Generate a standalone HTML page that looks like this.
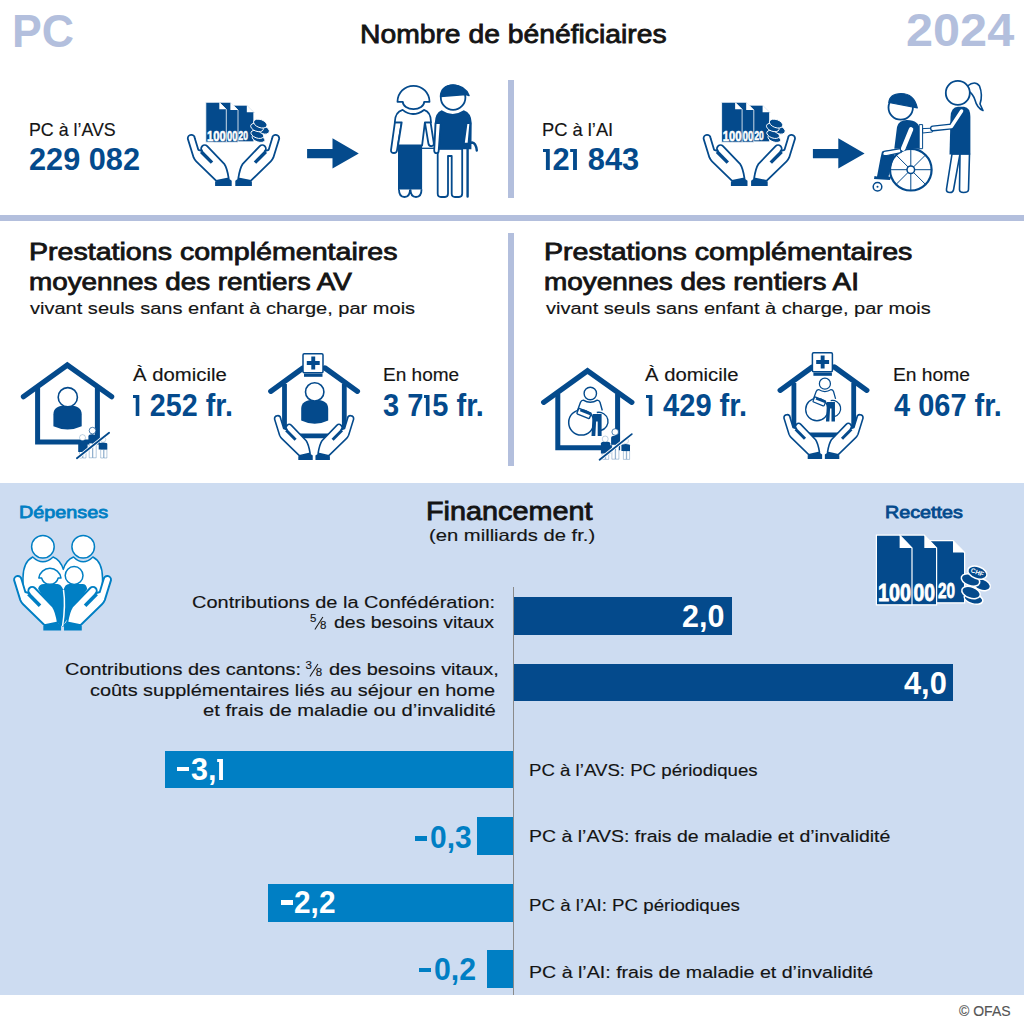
<!DOCTYPE html>
<html><head><meta charset="utf-8"><style>
html,body{margin:0;padding:0;background:#fff;}
body{width:1024px;height:1030px;position:relative;overflow:hidden;font-family:"Liberation Sans",sans-serif;}
.t{position:absolute;white-space:nowrap;transform-origin:0 0;}
.r{position:absolute;}
svg{position:absolute;overflow:visible;}
.one{display:inline-block;position:relative;width:0.31em;height:0.66em;}.one::before{content:'';position:absolute;left:0.095em;bottom:0;width:0.13em;height:0.664em;background:currentColor;}.one::after{content:'';position:absolute;left:0.015em;top:0;width:0.1em;height:0.1em;background:currentColor;}</style></head><body>
<div class="r" style="left:508px;top:80px;width:6px;height:118px;background:#b3bfdd"></div>
<div class="r" style="left:0px;top:214.5px;width:1024px;height:6.199999999999989px;background:#b3bfdd"></div>
<div class="r" style="left:508px;top:233px;width:6px;height:233px;background:#b3bfdd"></div>
<div class="r" style="left:0px;top:483px;width:1024px;height:512px;background:#cddcf1"></div>
<div class="r" style="left:514px;top:597px;width:218px;height:38px;background:#044a8c"></div>
<div class="r" style="left:514px;top:664px;width:439px;height:37px;background:#044a8c"></div>
<div class="r" style="left:165px;top:751px;width:348px;height:37px;background:#007fc4"></div>
<div class="r" style="left:477px;top:817px;width:36px;height:38px;background:#007fc4"></div>
<div class="r" style="left:268px;top:884px;width:245px;height:38px;background:#007fc4"></div>
<div class="r" style="left:487px;top:950px;width:26px;height:38px;background:#007fc4"></div>
<div class="r" style="left:513px;top:587px;width:1px;height:408px;background:#8a8a8a"></div>
<div class="r" style="left:176.5px;top:767.3px;width:12.5px;height:4.2000000000000455px;background:#fff"></div>
<div class="r" style="left:414.7px;top:836.4px;width:12.300000000000011px;height:4.300000000000068px;background:#007fc4"></div>
<div class="r" style="left:280.9px;top:899.9px;width:12.5px;height:5.100000000000023px;background:#fff"></div>
<div class="r" style="left:419.1px;top:967.9px;width:11.899999999999977px;height:4.300000000000068px;background:#007fc4"></div>
<svg width="1024" height="1030" viewBox="0 0 1024 1030" style="left:0;top:0">
<g transform="translate(0,0)">
 <path d="M228 105.2 H246.8 L253.8 112.3 V141.8 H228 Z" fill="#044a8c" stroke="#fff" stroke-width="0.8"/>
 <path d="M246.8 105.2 L253.8 112.3 H246.8 Z" fill="#fff"/>
 <path d="M214 102.3 H230.4 L238 110 V142.2 H214 Z" fill="#044a8c" stroke="#fff" stroke-width="0.8"/>
 <path d="M230.4 102.3 L238 110 H230.4 Z" fill="#fff"/>
 <path d="M205.8 102.3 H219.3 L226.3 109.3 V142.2 H205.8 Z" fill="#044a8c" stroke="#fff" stroke-width="0.8"/>
 <path d="M219.3 102.3 L226.3 109.3 H219.3 Z" fill="#fff"/>
 <text x="207" y="141" font-family="Liberation Sans" font-weight="bold" font-size="15" fill="#fff" stroke="#fff" stroke-width="0.6" textLength="18.7" lengthAdjust="spacingAndGlyphs">100</text>
 <text x="227" y="141" font-family="Liberation Sans" font-weight="bold" font-size="15" fill="#fff" stroke="#fff" stroke-width="0.6" textLength="10.4" lengthAdjust="spacingAndGlyphs">00</text>
 <text x="238.6" y="139.5" font-family="Liberation Sans" font-weight="bold" font-size="13.5" fill="#fff" stroke="#fff" stroke-width="0.6" textLength="9.4" lengthAdjust="spacingAndGlyphs">20</text>
 <g fill="#044a8c" stroke="#fff" stroke-width="0.9">
  <ellipse cx="258.5" cy="138.6" rx="6.6" ry="3.4" transform="rotate(18 258.5 138.6)"/>
  <ellipse cx="257.3" cy="134.4" rx="6.6" ry="3.6" transform="rotate(20 257.3 134.4)"/>
  <ellipse cx="263.6" cy="130" rx="6" ry="3.8" transform="rotate(20 263.6 130)"/>
  <ellipse cx="257" cy="127.5" rx="6.6" ry="3.8" transform="rotate(20 257 127.5)"/>
  <ellipse cx="260.3" cy="123.6" rx="7" ry="4" transform="rotate(20 260.3 123.6)"/>
 </g>
</g>
<g color="#044a8c">
 <g transform="translate(232,185.9)">
 <path d="M -37.2 -47.7 A 3.5 3.5 0 0 0 -44.2 -47.2 L -38.4 -28.5 Q -37.3 -26 -35.8 -24.6 L -15.7 -5.0 L -3.3 -7.6 Q -5 -18 -7.8 -22.1 L -24.8 -39.8 A 3.5 3.5 0 0 0 -29.8 -34.8 L -33.7 -36.1 Z" fill="#fff" stroke="currentColor" stroke-width="1.8" stroke-linejoin="round"/>
 <path d="M -30.8 -34.2 L -20 -23.3" stroke="currentColor" stroke-width="3.4"/>
 <path d="M -16.9 -4.4 L -3.5 -7.6 L -0.3 -5.1 L -0.3 0 L -16.9 0 Z" fill="currentColor"/>
</g>
 <g transform="translate(235,185.9) scale(-1,1)">
 <path d="M -37.2 -47.7 A 3.5 3.5 0 0 0 -44.2 -47.2 L -38.4 -28.5 Q -37.3 -26 -35.8 -24.6 L -15.7 -5.0 L -3.3 -7.6 Q -5 -18 -7.8 -22.1 L -24.8 -39.8 A 3.5 3.5 0 0 0 -29.8 -34.8 L -33.7 -36.1 Z" fill="#fff" stroke="currentColor" stroke-width="1.8" stroke-linejoin="round"/>
 <path d="M -30.8 -34.2 L -20 -23.3" stroke="currentColor" stroke-width="3.4"/>
 <path d="M -16.9 -4.4 L -3.5 -7.6 L -0.3 -5.1 L -0.3 0 L -16.9 0 Z" fill="currentColor"/>
</g>
</g>
<g transform="translate(515.8,0)">
 <path d="M228 105.2 H246.8 L253.8 112.3 V141.8 H228 Z" fill="#044a8c" stroke="#fff" stroke-width="0.8"/>
 <path d="M246.8 105.2 L253.8 112.3 H246.8 Z" fill="#fff"/>
 <path d="M214 102.3 H230.4 L238 110 V142.2 H214 Z" fill="#044a8c" stroke="#fff" stroke-width="0.8"/>
 <path d="M230.4 102.3 L238 110 H230.4 Z" fill="#fff"/>
 <path d="M205.8 102.3 H219.3 L226.3 109.3 V142.2 H205.8 Z" fill="#044a8c" stroke="#fff" stroke-width="0.8"/>
 <path d="M219.3 102.3 L226.3 109.3 H219.3 Z" fill="#fff"/>
 <text x="207" y="141" font-family="Liberation Sans" font-weight="bold" font-size="15" fill="#fff" stroke="#fff" stroke-width="0.6" textLength="18.7" lengthAdjust="spacingAndGlyphs">100</text>
 <text x="227" y="141" font-family="Liberation Sans" font-weight="bold" font-size="15" fill="#fff" stroke="#fff" stroke-width="0.6" textLength="10.4" lengthAdjust="spacingAndGlyphs">00</text>
 <text x="238.6" y="139.5" font-family="Liberation Sans" font-weight="bold" font-size="13.5" fill="#fff" stroke="#fff" stroke-width="0.6" textLength="9.4" lengthAdjust="spacingAndGlyphs">20</text>
 <g fill="#044a8c" stroke="#fff" stroke-width="0.9">
  <ellipse cx="258.5" cy="138.6" rx="6.6" ry="3.4" transform="rotate(18 258.5 138.6)"/>
  <ellipse cx="257.3" cy="134.4" rx="6.6" ry="3.6" transform="rotate(20 257.3 134.4)"/>
  <ellipse cx="263.6" cy="130" rx="6" ry="3.8" transform="rotate(20 263.6 130)"/>
  <ellipse cx="257" cy="127.5" rx="6.6" ry="3.8" transform="rotate(20 257 127.5)"/>
  <ellipse cx="260.3" cy="123.6" rx="7" ry="4" transform="rotate(20 260.3 123.6)"/>
 </g>
</g>
<g color="#044a8c">
 <g transform="translate(747.8,185.9)">
 <path d="M -37.2 -47.7 A 3.5 3.5 0 0 0 -44.2 -47.2 L -38.4 -28.5 Q -37.3 -26 -35.8 -24.6 L -15.7 -5.0 L -3.3 -7.6 Q -5 -18 -7.8 -22.1 L -24.8 -39.8 A 3.5 3.5 0 0 0 -29.8 -34.8 L -33.7 -36.1 Z" fill="#fff" stroke="currentColor" stroke-width="1.8" stroke-linejoin="round"/>
 <path d="M -30.8 -34.2 L -20 -23.3" stroke="currentColor" stroke-width="3.4"/>
 <path d="M -16.9 -4.4 L -3.5 -7.6 L -0.3 -5.1 L -0.3 0 L -16.9 0 Z" fill="currentColor"/>
</g>
 <g transform="translate(750.8,185.9) scale(-1,1)">
 <path d="M -37.2 -47.7 A 3.5 3.5 0 0 0 -44.2 -47.2 L -38.4 -28.5 Q -37.3 -26 -35.8 -24.6 L -15.7 -5.0 L -3.3 -7.6 Q -5 -18 -7.8 -22.1 L -24.8 -39.8 A 3.5 3.5 0 0 0 -29.8 -34.8 L -33.7 -36.1 Z" fill="#fff" stroke="currentColor" stroke-width="1.8" stroke-linejoin="round"/>
 <path d="M -30.8 -34.2 L -20 -23.3" stroke="currentColor" stroke-width="3.4"/>
 <path d="M -16.9 -4.4 L -3.5 -7.6 L -0.3 -5.1 L -0.3 0 L -16.9 0 Z" fill="currentColor"/>
</g>
</g>
<path d="M307.1 148.9 H332.5 V138.2 L358.8 153.4 L332.5 168.6 V158.3 H307.1 Z" fill="#044a8c"/>
<path d="M812.9000000000001 148.9 H838.3 V138.2 L864.6 153.4 L838.3 168.6 V158.3 H812.9000000000001 Z" fill="#044a8c"/>
<g fill="#fff" stroke="#044a8c" stroke-width="1.8" stroke-linejoin="round">
 <path d="M394.9 122.3 L391 150.2 Q390.8 153 394 153 Q396.6 153 397 150.4 L401.7 122.3 Z"/>
 <path d="M424.9 122.3 L428.4 143.5 Q428.8 146.2 431.6 146.2 Q434.2 145.8 433.8 143 L430.6 122.3 Z"/>
 <path d="M402.6 109.9 Q412.8 118.1 424 109.9 Q431 112 431 122.3 L424.9 122.3 L422.1 145.5 L398 145.5 L401.7 122.3 L394.8 122.3 Q395 112 402.6 109.9 Z"/>
 <path d="M437.7 148.8 V193.5 Q437.7 197 441 197 H445 Q448 197 448 193.5 V156 H451.7 V193.5 Q451.7 197 455 197 H459 Q462.2 197 462.2 193.5 V148.8 Z"/>
</g>
<path d="M398 145.5 H422.1 V190 H398 Z" fill="#044a8c"/>
<path d="M399 189.5 Q399 197 404.5 197 Q410 197 410 189.5 M410.5 189.5 Q410.5 197 416 197 Q421.5 197 421.5 189.5" fill="#fff" stroke="#044a8c" stroke-width="1.8"/>
<path d="M397.5 101.8 A16 16 0 0 1 429.5 101.8 H424.2 A10.7 7.4 0 0 1 402.8 101.8 Z" fill="#fff" stroke="#044a8c" stroke-width="1.8" stroke-linejoin="round"/>
<path d="M422 148.3 H437.5" stroke="#044a8c" stroke-width="1.3"/>
<path d="M441.6 110.3 Q452.7 117.6 463.8 110.3 Q471.5 113 471.7 123 L471.4 149.2 L434.4 149.2 L434.8 123 Q435 113 441.6 110.3 Z" fill="#044a8c"/>
<g fill="#fff" stroke="#044a8c" stroke-width="1.8" stroke-linejoin="round">
 <path d="M435.6 123.2 L434.2 150.4 Q434.2 153.2 436.8 153.2 Q438.7 153.2 438.7 150.6 L440.7 123.2 Z"/>
 <path d="M466.6 123.2 L463.8 143.6 L468.5 143.6 L470.3 123.2 Z"/>
 <circle cx="453.1" cy="97.5" r="12.3"/>
</g>
<path d="M440.5 96.5 Q441 85.5 453 85.2 Q465 85.3 469 95.5 L466 94.5 Z" fill="#044a8c" stroke="#044a8c" stroke-width="1.5" stroke-linejoin="round"/>
<path d="M467.6 196.5 V148 Q468 142.5 472 142.5 Q476 143 476.8 150.5" fill="none" stroke="#044a8c" stroke-width="2.4" stroke-linecap="round"/>


<!-- wheel -->
<circle cx="910.8" cy="169.7" r="20.8" fill="#fff" stroke="#044a8c" stroke-width="2.2"/>
<g stroke="#044a8c" stroke-width="1">
 <path d="M910.8 149 V190.5 M890 169.7 H931.6 M896.1 155 L925.5 184.4 M925.5 155 L896.1 184.4"/>
</g>
<circle cx="910.8" cy="169.7" r="3.8" fill="#fff" stroke="#044a8c" stroke-width="1.5"/>
<circle cx="877.5" cy="186.8" r="4.3" fill="#fff" stroke="#044a8c" stroke-width="1.5"/>
<circle cx="877.5" cy="186.8" r="1" fill="#044a8c"/>
<!-- legs -->
<path d="M882 151.5 L896 149 L893 160 L888.5 176.5 L891 177 L890 180 L874 179 L874.5 176 L877 176.5 L880.5 158 Z" fill="#044a8c"/>
<path d="M884 151.3 Q882 153 883 155 Q885 156 887 155.5 L901 152.5 L900.6 148.7 Z" fill="#fff" stroke="#044a8c" stroke-width="1.2"/>
<!-- body -->
<path d="M894.3 148.7 L897 127 Q899 120 907 120.1 Q919.5 120.5 919.7 130 L919.7 148.7 Z" fill="#044a8c"/>
<path d="M911 129.5 L903.2 148.5" stroke="#fff" stroke-width="4.6" stroke-linecap="round"/>
<path d="M919.2 124.6 H922.6 V148.7 H919.2 Z M922.6 128.6 L932.4 128.2 L932.4 132 L922.6 133 Z" fill="#fff" stroke="#044a8c" stroke-width="1"/>
<!-- head -->
<circle cx="900.7" cy="107.5" r="12.2" fill="#fff" stroke="#044a8c" stroke-width="1.8"/>
<path d="M888.8 102.5 Q889.5 93.8 901 93.5 Q914 93.5 917.3 107.8 Z" fill="#044a8c" stroke="#044a8c" stroke-width="1.2" stroke-linejoin="round"/>
<!-- woman legs -->
<g fill="#fff" stroke="#044a8c" stroke-width="1.6" stroke-linejoin="round">
 <path d="M952 154 L946.5 189 Q946 192.5 950 192.5 Q953 192.5 953.5 190 L960 154 Z"/>
 <path d="M960 154 L959.5 189.5 Q959.5 192.5 963.5 192.5 Q968.5 192.5 968.5 189.5 L969.5 154 Z"/>
</g>
<!-- dress -->
<path d="M949.5 154.4 L950.5 117 Q951 107 958 106.8 L964 106.8 Q970.4 107.5 970.4 117 V154.4 Z" fill="#044a8c"/>
<!-- arm -->
<path d="M961.6 111 L951.4 126.5 L933 128.4" fill="none" stroke="#044a8c" stroke-width="6" stroke-linecap="round" stroke-linejoin="round"/>
<path d="M961.6 111 L951.4 126.5 L933 128.4" fill="none" stroke="#fff" stroke-width="3.4" stroke-linecap="round" stroke-linejoin="round"/>
<!-- woman head -->
<path d="M967.5 86 Q975 80 979.5 86 Q983 95 980 104 L983 110.5 Q977 108 975 100 Q973 94 968.5 91" fill="#fff" stroke="#044a8c" stroke-width="1.6" stroke-linejoin="round"/>
<circle cx="957.8" cy="92.9" r="12" fill="#fff" stroke="#044a8c" stroke-width="1.8"/>

<g transform="translate(0,0)">
 <path d="M37.6 388 V442 H97.4 V388" fill="none" stroke="#044a8c" stroke-width="5"/>
 <path d="M23.5 396.6 L67.3 365.1 L111.6 396.6" fill="none" stroke="#044a8c" stroke-width="5.3" stroke-linecap="round" stroke-linejoin="miter"/>
</g>
<path d="M53.4 414.2 Q53.4 405.2 67.55 405.2 Q81.7 405.2 81.7 414.2 L81.7 426.3 Q67.55 432.8 53.4 426.3 Z" fill="#044a8c"/>
<circle cx="67.8" cy="397.2" r="9.6" fill="#fff" stroke="#044a8c" stroke-width="1.6"/>
<g transform="translate(0,0)">
 <g fill="#fff" stroke="#044a8c" stroke-width="0.6" stroke-opacity="0.5">
  <path d="M89.2 443 H92.5 V457.8 H89.2 Z M92.9 443 H96.2 V457.8 H92.9 Z"/>
  <path d="M79.5 451 H82.5 V458 H79.5 Z M83 451 H86 V458 H83 Z"/>
  <path d="M100.7 449.5 H103.6 V458 H100.7 Z M104 449.5 H106.9 V458 H104 Z"/>
 </g>
 <path d="M88.4 436.5 Q88.4 434.3 92.1 434.3 Q95.8 434.3 95.8 436.5 V443.3 H88.4 Z" fill="#044a8c"/>
 <circle cx="92.5" cy="430.6" r="3.3" fill="#fff" stroke="#044a8c" stroke-width="0.7"/>
 <path d="M78.2 442 Q78.2 440 82.9 440 Q87.6 440 87.6 442 V452 H78.2 Z" fill="#044a8c"/>
 <circle cx="82.5" cy="437.6" r="3" fill="#fff" stroke="#044a8c" stroke-width="0.5" stroke-opacity="0.5"/>
 <path d="M98.7 444 Q98.7 442.5 103 442.5 Q107.3 442.5 107.3 444 V449.5 H98.7 Z" fill="#044a8c"/>
 <circle cx="103" cy="439.5" r="2.8" fill="#fff" stroke="#044a8c" stroke-width="0.5" stroke-opacity="0.4"/>
 <path d="M76.9 458.3 L109.1 432.7" stroke="#fff" stroke-width="3.4"/>
 <path d="M76.9 458.3 L109.1 432.7" stroke="#044a8c" stroke-width="1.8" stroke-linecap="round"/>
</g>
<g transform="translate(0,0)">
 <path d="M284.5 384 V435.8 H344.3 V384" fill="none" stroke="#044a8c" stroke-width="4.8"/>
 <path d="M270.8 391.3 L303 368 M325 368 L357.4 391.3" fill="none" stroke="#044a8c" stroke-width="5.3" stroke-linecap="round"/>
 <rect x="304" y="373.6" width="18.5" height="3.2" fill="#044a8c"/>
 <rect x="303" y="353.8" width="20" height="19" rx="1.2" fill="#fff" stroke="#044a8c" stroke-width="1.5"/>
 <path d="M306.8 361 H319.7 V364.9 H306.8 Z M311.3 356.4 H315.2 V369.4 H311.3 Z" fill="#044a8c"/>
 <path d="M301.2 408.8 Q301.2 399.8 314.7 399.8 Q328.2 399.8 328.2 408.8 L328.2 420.6 Q314.7 427.1 301.2 420.6 Z" fill="#044a8c"/>
<circle cx="314.7" cy="391.9" r="9.2" fill="#fff" stroke="#044a8c" stroke-width="1.6"/>
 <g color="#044a8c">
  <g transform="translate(313,460) scale(0.87)">
 <path d="M -37.2 -47.7 A 3.5 3.5 0 0 0 -44.2 -47.2 L -38.4 -28.5 Q -37.3 -26 -35.8 -24.6 L -15.7 -5.0 L -3.3 -7.6 Q -5 -18 -7.8 -22.1 L -24.8 -39.8 A 3.5 3.5 0 0 0 -29.8 -34.8 L -33.7 -36.1 Z" fill="#fff" stroke="currentColor" stroke-width="1.8" stroke-linejoin="round"/>
 <path d="M -30.8 -34.2 L -20 -23.3" stroke="currentColor" stroke-width="3.4"/>
 <path d="M -16.9 -4.4 L -3.5 -7.6 L -0.3 -5.1 L -0.3 0 L -16.9 0 Z" fill="currentColor"/>
</g>
  <g transform="translate(315.2,460) scale(-0.87,0.87)">
 <path d="M -37.2 -47.7 A 3.5 3.5 0 0 0 -44.2 -47.2 L -38.4 -28.5 Q -37.3 -26 -35.8 -24.6 L -15.7 -5.0 L -3.3 -7.6 Q -5 -18 -7.8 -22.1 L -24.8 -39.8 A 3.5 3.5 0 0 0 -29.8 -34.8 L -33.7 -36.1 Z" fill="#fff" stroke="currentColor" stroke-width="1.8" stroke-linejoin="round"/>
 <path d="M -30.8 -34.2 L -20 -23.3" stroke="currentColor" stroke-width="3.4"/>
 <path d="M -16.9 -4.4 L -3.5 -7.6 L -0.3 -5.1 L -0.3 0 L -16.9 0 Z" fill="currentColor"/>
</g>
 </g>
</g>
<g transform="translate(520.2,5.7)">
 <path d="M37.6 388 V442 H97.4 V388" fill="none" stroke="#044a8c" stroke-width="5"/>
 <path d="M23.5 396.6 L67.3 365.1 L111.6 396.6" fill="none" stroke="#044a8c" stroke-width="5.3" stroke-linecap="round" stroke-linejoin="miter"/>
</g>
<g transform="translate(590.3,393.5) scale(1.0)">
 <path d="M-12.8 17 L-9.8 8.8 Q-9 6.6 -7 6.6 Q0 11 7 6.6 Q9 6.6 9.7 8.8 L12 17" fill="#fff" stroke="#044a8c" stroke-width="1.4" stroke-linejoin="round"/>
 <path d="M6.5 19 A9.2 9.2 0 1 1 10.5 37" fill="none" stroke="#044a8c" stroke-width="1.4"/>
 <circle cx="-9" cy="29" r="12.6" fill="#fff" stroke="#044a8c" stroke-width="1.5"/>
 <path d="M2.3 20.6 H11.3 V42.5 H7.4 V28 H5.8 L5 42.5 H1.2 Z" fill="#044a8c"/>
 <g transform="rotate(22 -6.2 20)">
  <rect x="-13" y="17" width="13.5" height="6" rx="1" fill="#fff" stroke="#044a8c" stroke-width="1.4"/>
  <rect x="-11" y="17" width="11" height="2.4" fill="#044a8c"/>
 </g>
 <circle cx="0" cy="0" r="6.2" fill="#fff" stroke="#044a8c" stroke-width="1.4"/>
</g>
<g transform="translate(522.7,1.4)">
 <g fill="#fff" stroke="#044a8c" stroke-width="0.6" stroke-opacity="0.5">
  <path d="M89.2 443 H92.5 V457.8 H89.2 Z M92.9 443 H96.2 V457.8 H92.9 Z"/>
  <path d="M79.5 451 H82.5 V458 H79.5 Z M83 451 H86 V458 H83 Z"/>
  <path d="M100.7 449.5 H103.6 V458 H100.7 Z M104 449.5 H106.9 V458 H104 Z"/>
 </g>
 <path d="M88.4 436.5 Q88.4 434.3 92.1 434.3 Q95.8 434.3 95.8 436.5 V443.3 H88.4 Z" fill="#044a8c"/>
 <circle cx="92.5" cy="430.6" r="3.3" fill="#fff" stroke="#044a8c" stroke-width="0.7"/>
 <path d="M78.2 442 Q78.2 440 82.9 440 Q87.6 440 87.6 442 V452 H78.2 Z" fill="#044a8c"/>
 <circle cx="82.5" cy="437.6" r="3" fill="#fff" stroke="#044a8c" stroke-width="0.5" stroke-opacity="0.5"/>
 <path d="M98.7 444 Q98.7 442.5 103 442.5 Q107.3 442.5 107.3 444 V449.5 H98.7 Z" fill="#044a8c"/>
 <circle cx="103" cy="439.5" r="2.8" fill="#fff" stroke="#044a8c" stroke-width="0.5" stroke-opacity="0.4"/>
 <path d="M76.9 458.3 L109.1 432.7" stroke="#fff" stroke-width="3.4"/>
 <path d="M76.9 458.3 L109.1 432.7" stroke="#044a8c" stroke-width="1.8" stroke-linecap="round"/>
</g>
<g transform="translate(509.4,-1)">
 <path d="M284.5 384 V435.8 H344.3 V384" fill="none" stroke="#044a8c" stroke-width="4.8"/>
 <path d="M270.8 391.3 L303 368 M325 368 L357.4 391.3" fill="none" stroke="#044a8c" stroke-width="5.3" stroke-linecap="round"/>
 <rect x="304" y="373.6" width="18.5" height="3.2" fill="#044a8c"/>
 <rect x="303" y="353.8" width="20" height="19" rx="1.2" fill="#fff" stroke="#044a8c" stroke-width="1.5"/>
 <path d="M306.8 361 H319.7 V364.9 H306.8 Z M311.3 356.4 H315.2 V369.4 H311.3 Z" fill="#044a8c"/>
 <g transform="translate(315.5,384.7) scale(0.89)">
 <path d="M-12.8 17 L-9.8 8.8 Q-9 6.6 -7 6.6 Q0 11 7 6.6 Q9 6.6 9.7 8.8 L12 17" fill="#fff" stroke="#044a8c" stroke-width="1.4" stroke-linejoin="round"/>
 <path d="M6.5 19 A9.2 9.2 0 1 1 10.5 37" fill="none" stroke="#044a8c" stroke-width="1.4"/>
 <circle cx="-9" cy="29" r="12.6" fill="#fff" stroke="#044a8c" stroke-width="1.5"/>
 <path d="M2.3 20.6 H11.3 V42.5 H7.4 V28 H5.8 L5 42.5 H1.2 Z" fill="#044a8c"/>
 <g transform="rotate(22 -6.2 20)">
  <rect x="-13" y="17" width="13.5" height="6" rx="1" fill="#fff" stroke="#044a8c" stroke-width="1.4"/>
  <rect x="-11" y="17" width="11" height="2.4" fill="#044a8c"/>
 </g>
 <circle cx="0" cy="0" r="6.2" fill="#fff" stroke="#044a8c" stroke-width="1.4"/>
</g>
 <g color="#044a8c">
  <g transform="translate(313,460) scale(0.87)">
 <path d="M -37.2 -47.7 A 3.5 3.5 0 0 0 -44.2 -47.2 L -38.4 -28.5 Q -37.3 -26 -35.8 -24.6 L -15.7 -5.0 L -3.3 -7.6 Q -5 -18 -7.8 -22.1 L -24.8 -39.8 A 3.5 3.5 0 0 0 -29.8 -34.8 L -33.7 -36.1 Z" fill="#fff" stroke="currentColor" stroke-width="1.8" stroke-linejoin="round"/>
 <path d="M -30.8 -34.2 L -20 -23.3" stroke="currentColor" stroke-width="3.4"/>
 <path d="M -16.9 -4.4 L -3.5 -7.6 L -0.3 -5.1 L -0.3 0 L -16.9 0 Z" fill="currentColor"/>
</g>
  <g transform="translate(315.2,460) scale(-0.87,0.87)">
 <path d="M -37.2 -47.7 A 3.5 3.5 0 0 0 -44.2 -47.2 L -38.4 -28.5 Q -37.3 -26 -35.8 -24.6 L -15.7 -5.0 L -3.3 -7.6 Q -5 -18 -7.8 -22.1 L -24.8 -39.8 A 3.5 3.5 0 0 0 -29.8 -34.8 L -33.7 -36.1 Z" fill="#fff" stroke="currentColor" stroke-width="1.8" stroke-linejoin="round"/>
 <path d="M -30.8 -34.2 L -20 -23.3" stroke="currentColor" stroke-width="3.4"/>
 <path d="M -16.9 -4.4 L -3.5 -7.6 L -0.3 -5.1 L -0.3 0 L -16.9 0 Z" fill="currentColor"/>
</g>
 </g>
</g>
<g>
 <path d="M23 590 L23 578 Q23 562 32.7 557 Q42.9 566.6 53.1 557 Q60.5 560 63.3 569.4 Q66 560 73.5 557 Q83.2 566.6 92.9 557 Q102.5 562 102.5 578 L102.5 590 L63 626 Z" fill="#fff" stroke="#007fc4" stroke-width="1.5" stroke-linejoin="round"/>
 <path d="M38.1 588.8 Q39 584 44 583.9 L57.5 583.9 Q61 584 63.5 590 Q65 584 69 583.9 L82.5 583.9 Q86.5 584 87.2 589 L63 625.5 L60 625.5 Z" fill="#007fc4"/>
 <path d="M63.5 590 Q65.8 605 62.6 626" fill="none" stroke="#fff" stroke-width="1.5"/>
 <circle cx="42.9" cy="546.8" r="11.3" fill="#fff" stroke="#007fc4" stroke-width="1.5"/>
 <circle cx="83.2" cy="546.8" r="11.3" fill="#fff" stroke="#007fc4" stroke-width="1.5"/>
 <path d="M38.8 578 A11.2 11.2 0 0 1 61 578 H58.2 A8.6 8.6 0 0 1 41.6 578 Z" fill="#fff" stroke="#007fc4" stroke-width="1.5" stroke-linejoin="round"/>
 <circle cx="74.1" cy="575.5" r="8.9" fill="#fff" stroke="#007fc4" stroke-width="1.5"/>
 <g color="#007fc4">
  <g transform="translate(61.4,630.6) scale(1.07)">
 <path d="M -37.2 -47.7 A 3.5 3.5 0 0 0 -44.2 -47.2 L -38.4 -28.5 Q -37.3 -26 -35.8 -24.6 L -15.7 -5.0 L -3.3 -7.6 Q -5 -18 -7.8 -22.1 L -24.8 -39.8 A 3.5 3.5 0 0 0 -29.8 -34.8 L -33.7 -36.1 Z" fill="#fff" stroke="currentColor" stroke-width="1.8" stroke-linejoin="round"/>
 <path d="M -30.8 -34.2 L -20 -23.3" stroke="currentColor" stroke-width="3.4"/>
 <path d="M -16.9 -4.4 L -3.5 -7.6 L -0.3 -5.1 L -0.3 0 L -16.9 0 Z" fill="currentColor"/>
</g>
  <g transform="translate(63.7,630.6) scale(-1.07,1.07)">
 <path d="M -37.2 -47.7 A 3.5 3.5 0 0 0 -44.2 -47.2 L -38.4 -28.5 Q -37.3 -26 -35.8 -24.6 L -15.7 -5.0 L -3.3 -7.6 Q -5 -18 -7.8 -22.1 L -24.8 -39.8 A 3.5 3.5 0 0 0 -29.8 -34.8 L -33.7 -36.1 Z" fill="#fff" stroke="currentColor" stroke-width="1.8" stroke-linejoin="round"/>
 <path d="M -30.8 -34.2 L -20 -23.3" stroke="currentColor" stroke-width="3.4"/>
 <path d="M -16.9 -4.4 L -3.5 -7.6 L -0.3 -5.1 L -0.3 0 L -16.9 0 Z" fill="currentColor"/>
</g>
 </g>
</g>
<g>
 <path d="M925 540.6 H953 L964.6 552.5 V602.8 H925 Z" fill="#044a8c" stroke="#fff" stroke-width="1.2"/>
 <path d="M953 540.6 L964.6 552.5 H953 Z" fill="#fff"/>
 <path d="M900 535.1 H924.3 L936.6 548 V604.8 H900 Z" fill="#044a8c" stroke="#fff" stroke-width="1.2"/>
 <path d="M924.3 535.1 L936.6 548 H924.3 Z" fill="#fff"/>
 <path d="M876.4 535.1 H899.6 L912 548 V604.8 H876.4 Z" fill="#044a8c" stroke="#fff" stroke-width="1.2"/>
 <path d="M899.6 535.1 L912 548 H899.6 Z" fill="#fff"/>
 <text x="878" y="601.4" font-family="Liberation Sans" font-weight="bold" font-size="23" fill="#fff" stroke="#fff" stroke-width="0.8" textLength="33" lengthAdjust="spacingAndGlyphs">100</text>
 <text x="913.5" y="601.4" font-family="Liberation Sans" font-weight="bold" font-size="23" fill="#fff" stroke="#fff" stroke-width="0.8" textLength="21.5" lengthAdjust="spacingAndGlyphs">00</text>
 <text x="938" y="598" font-family="Liberation Sans" font-weight="bold" font-size="22" fill="#fff" stroke="#fff" stroke-width="0.8" textLength="17" lengthAdjust="spacingAndGlyphs">20</text>
 <g fill="#044a8c" stroke="#fff" stroke-width="1.5">
  <ellipse cx="973.5" cy="598.8" rx="9.6" ry="5" transform="rotate(15 973.5 598.8)"/>
  <ellipse cx="971" cy="592.5" rx="9.6" ry="5.6" transform="rotate(20 971 592.5)"/>
  <ellipse cx="981.5" cy="584.5" rx="9.2" ry="5.6" transform="rotate(20 981.5 584.5)"/>
  <ellipse cx="970.5" cy="580" rx="9.6" ry="5.6" transform="rotate(20 970.5 580)"/>
  <ellipse cx="977.4" cy="572.6" rx="9.9" ry="6" transform="rotate(20 977.4 572.6)"/>
 </g>
 <text x="970.5" y="574.5" font-family="Liberation Sans" font-weight="bold" font-size="6.5" fill="#fff" transform="rotate(20 977.4 572.6)">CHF</text>
</g>
</svg>
<div class="t" style="left:12.29px;top:3.80px;font-size:46px;line-height:55px;font-weight:bold;color:#b3bfdd;transform:scaleX(0.9700)">PC</div>
<div class="t" style="left:359.89px;top:18.50px;font-size:25.5px;line-height:31px;font-weight:normal;color:#141414;-webkit-text-stroke:0.8px #141414;transform:scaleX(1.1091)">Nombre de bénéficiaires</div>
<div class="t" style="left:906.37px;top:1.90px;font-size:47px;line-height:56px;font-weight:bold;color:#b3bfdd;transform:scaleX(1.0346)">2024</div>
<div class="t" style="left:28.58px;top:119.50px;font-size:17.5px;line-height:21px;font-weight:normal;color:#141414;-webkit-text-stroke:0.15px #141414;transform:scaleX(1.0167)">PC à l’AVS</div>
<div class="t" style="left:28.63px;top:140.20px;font-size:31.8px;line-height:38px;font-weight:bold;color:#044a8c;transform:scaleX(0.9655)">229 082</div>
<div class="t" style="left:541.55px;top:119.50px;font-size:17.5px;line-height:21px;font-weight:normal;color:#141414;-webkit-text-stroke:0.15px #141414;transform:scaleX(1.0455)">PC à l’AI</div>
<div class="t" style="left:543.00px;top:140.20px;font-size:31.8px;line-height:38px;font-weight:bold;color:#044a8c;transform:scaleX(0.9694)"><span class="one"></span>2<span class="one"></span> 843</div>
<div class="t" style="left:28.58px;top:238.30px;font-size:23.5px;line-height:28px;font-weight:normal;color:#141414;-webkit-text-stroke:0.8px #141414;transform:scaleX(1.2159)">Prestations complémentaires</div>
<div class="t" style="left:28.62px;top:267.60px;font-size:23.5px;line-height:28px;font-weight:normal;color:#141414;-webkit-text-stroke:0.8px #141414;transform:scaleX(1.1846)">moyennes des rentiers AV</div>
<div class="t" style="left:29.80px;top:297.80px;font-size:17.3px;line-height:21px;font-weight:normal;color:#141414;-webkit-text-stroke:0.15px #141414;transform:scaleX(1.1587)">vivant seuls sans enfant à charge, par mois</div>
<div class="t" style="left:544.38px;top:238.30px;font-size:23.5px;line-height:28px;font-weight:normal;color:#141414;-webkit-text-stroke:0.8px #141414;transform:scaleX(1.2156)">Prestations complémentaires</div>
<div class="t" style="left:544.41px;top:267.60px;font-size:23.5px;line-height:28px;font-weight:normal;color:#141414;-webkit-text-stroke:0.8px #141414;transform:scaleX(1.1878)">moyennes des rentiers AI</div>
<div class="t" style="left:545.60px;top:297.80px;font-size:17.3px;line-height:21px;font-weight:normal;color:#141414;-webkit-text-stroke:0.15px #141414;transform:scaleX(1.1578)">vivant seuls sans enfant à charge, par mois</div>
<div class="t" style="left:132.60px;top:364.80px;font-size:17.5px;line-height:21px;font-weight:normal;color:#141414;-webkit-text-stroke:0.15px #141414;transform:scaleX(1.1613)">À domicile</div>
<div class="t" style="left:133.20px;top:386.00px;font-size:31.8px;line-height:38px;font-weight:bold;color:#044a8c;transform:scaleX(0.9028)"><span class="one"></span> 252 fr.</div>
<div class="t" style="left:383.11px;top:364.80px;font-size:17.5px;line-height:21px;font-weight:normal;color:#141414;-webkit-text-stroke:0.15px #141414;transform:scaleX(1.0870)">En home</div>
<div class="t" style="left:382.59px;top:386.00px;font-size:31.8px;line-height:38px;font-weight:bold;color:#044a8c;transform:scaleX(0.9120)">3 7<span class="one"></span>5 fr.</div>
<div class="t" style="left:644.80px;top:364.80px;font-size:17.5px;line-height:21px;font-weight:normal;color:#141414;-webkit-text-stroke:0.15px #141414;transform:scaleX(1.1575)">À domicile</div>
<div class="t" style="left:646.00px;top:386.00px;font-size:31.8px;line-height:38px;font-weight:bold;color:#044a8c;transform:scaleX(0.9138)"><span class="one"></span> 429 fr.</div>
<div class="t" style="left:893.10px;top:364.80px;font-size:17.5px;line-height:21px;font-weight:normal;color:#141414;-webkit-text-stroke:0.15px #141414;transform:scaleX(1.0986)">En home</div>
<div class="t" style="left:894.20px;top:386.00px;font-size:31.8px;line-height:38px;font-weight:bold;color:#044a8c;transform:scaleX(0.9111)">4 067 fr.</div>
<div class="t" style="left:18.80px;top:501.70px;font-size:16.5px;line-height:20px;font-weight:normal;color:#007fc4;-webkit-text-stroke:0.8px #007fc4;transform:scaleX(1.1986)">Dépenses</div>
<div class="t" style="left:426.05px;top:495.90px;font-size:25px;line-height:30px;font-weight:normal;color:#141414;-webkit-text-stroke:0.8px #141414;transform:scaleX(1.1528)">Financement</div>
<div class="t" style="left:429.28px;top:525.20px;font-size:16.5px;line-height:20px;font-weight:normal;color:#141414;-webkit-text-stroke:0.15px #141414;transform:scaleX(1.2246)">(en milliards de fr.)</div>
<div class="t" style="left:884.80px;top:501.80px;font-size:16.5px;line-height:20px;font-weight:normal;color:#044a8c;-webkit-text-stroke:0.8px #044a8c;transform:scaleX(1.1953)">Recettes</div>
<div class="t" style="left:192.20px;top:593.00px;font-size:17px;line-height:20px;font-weight:normal;color:#141414;-webkit-text-stroke:0.15px #141414;transform:scaleX(1.1751)">Contributions de la Confédération:</div>
<div class="t" style="left:334.00px;top:613.00px;font-size:17px;line-height:20px;font-weight:normal;color:#141414;-webkit-text-stroke:0.15px #141414;transform:scaleX(1.1443)">des besoins vitaux</div>
<div class="t" style="left:64.80px;top:660.00px;font-size:17px;line-height:20px;font-weight:normal;color:#141414;-webkit-text-stroke:0.15px #141414;transform:scaleX(1.1730)">Contributions des cantons:</div>
<div class="t" style="left:329.00px;top:660.00px;font-size:17px;line-height:20px;font-weight:normal;color:#141414;-webkit-text-stroke:0.15px #141414;transform:scaleX(1.1748)">des besoins vitaux,</div>
<div class="t" style="left:89.50px;top:680.80px;font-size:17px;line-height:20px;font-weight:normal;color:#141414;-webkit-text-stroke:0.15px #141414;transform:scaleX(1.1711)">coûts supplémentaires liés au séjour en home</div>
<div class="t" style="left:202.70px;top:701.00px;font-size:17px;line-height:20px;font-weight:normal;color:#141414;-webkit-text-stroke:0.15px #141414;transform:scaleX(1.1870)">et frais de maladie ou d’invalidité</div>
<div class="t" style="left:682.43px;top:596.70px;font-size:31.5px;line-height:38px;font-weight:bold;color:#fff;transform:scaleX(0.9667)">2,0</div>
<div class="t" style="left:903.70px;top:663.80px;font-size:31.5px;line-height:38px;font-weight:bold;color:#fff;transform:scaleX(0.9767)">4,0</div>
<div class="t" style="left:191.03px;top:749.80px;font-size:31.5px;line-height:38px;font-weight:bold;color:#fff;transform:scaleX(0.9688)">3,<span class="one"></span></div>
<div class="t" style="left:430.05px;top:818.10px;font-size:31.5px;line-height:38px;font-weight:bold;color:#007fc4;transform:scaleX(0.9500)">0,3</div>
<div class="t" style="left:294.05px;top:882.80px;font-size:31.5px;line-height:38px;font-weight:bold;color:#fff;transform:scaleX(0.9476)">2,2</div>
<div class="t" style="left:434.24px;top:950.30px;font-size:31.5px;line-height:38px;font-weight:bold;color:#007fc4;transform:scaleX(0.9595)">0,2</div>
<div class="t" style="left:528.70px;top:761.20px;font-size:17px;line-height:20px;font-weight:normal;color:#141414;-webkit-text-stroke:0.15px #141414;transform:scaleX(1.0966)">PC à l’AVS: PC périodiques</div>
<div class="t" style="left:528.65px;top:827.00px;font-size:17px;line-height:20px;font-weight:normal;color:#141414;-webkit-text-stroke:0.15px #141414;transform:scaleX(1.1462)">PC à l’AVS: frais de maladie et d’invalidité</div>
<div class="t" style="left:528.90px;top:896.10px;font-size:17px;line-height:20px;font-weight:normal;color:#141414;-webkit-text-stroke:0.15px #141414;transform:scaleX(1.0995)">PC à l’AI: PC périodiques</div>
<div class="t" style="left:528.85px;top:963.40px;font-size:17px;line-height:20px;font-weight:normal;color:#141414;-webkit-text-stroke:0.15px #141414;transform:scaleX(1.1529)">PC à l’AI: frais de maladie et d’invalidité</div>
<div class="t" style="left:959.30px;top:1003.00px;font-size:14.5px;line-height:17px;font-weight:normal;color:#555;-webkit-text-stroke:0.15px #555;transform:scaleX(0.9660)">© OFAS</div><div class="t" style="left:309.90px;top:613.30px;font-size:11.5px;line-height:11.5px;color:#141414;-webkit-text-stroke:0.15px #141414;">5</div><div class="t" style="left:320.10px;top:620.25px;font-size:11.5px;line-height:11.5px;color:#141414;-webkit-text-stroke:0.15px #141414;">8</div><div class="r" style="left:314.80px;top:628.80px;width:15.15px;height:1.3px;background:#141414;transform-origin:0 50%;transform:rotate(-57.67deg)"></div><div class="t" style="left:305.50px;top:660.30px;font-size:11.5px;line-height:11.5px;color:#141414;-webkit-text-stroke:0.15px #141414;">3</div><div class="t" style="left:315.70px;top:667.25px;font-size:11.5px;line-height:11.5px;color:#141414;-webkit-text-stroke:0.15px #141414;">8</div><div class="r" style="left:310.40px;top:675.80px;width:15.15px;height:1.3px;background:#141414;transform-origin:0 50%;transform:rotate(-57.67deg)"></div>
</body></html>
